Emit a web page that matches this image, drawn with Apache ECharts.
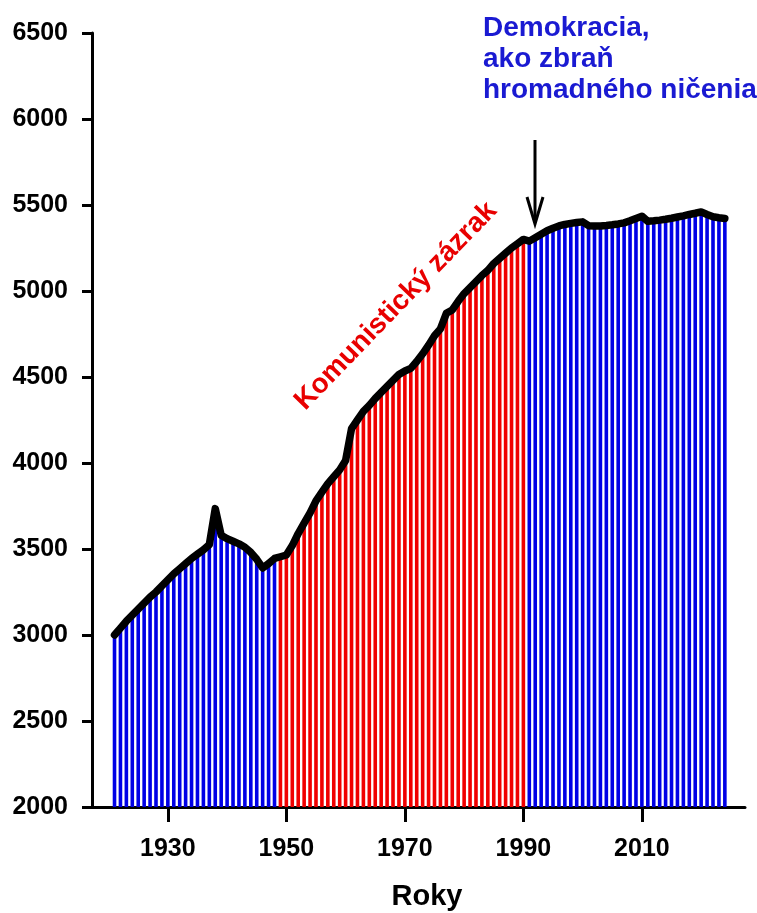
<!DOCTYPE html>
<html>
<head>
    <meta charset="utf-8">
    <title>Obyvatelstvo</title>
    <script src="https://cdn.jsdelivr.net/npm/echarts@6/dist/echarts.min.js"></script>
    <style>
        html, body { margin: 0; padding: 0; background: #fff; }
        #container { width: 757px; height: 913px; }
    </style>
</head>
<body>
<div id="container"></div>
<script type="text/javascript">
    // pocet obyvatelov (tis.), roky 1921 - 2024
    var firstYear = 1921;
    var population = [
        3000, 3040, 3080, 3115, 3150, 3185, 3220, 3250, 3285, 3320,
        3355, 3385, 3415, 3445, 3470, 3495, 3525, 3735, 3580, 3560,
        3545, 3530, 3510, 3480, 3440, 3390, 3415, 3445, 3455, 3465,
        3520, 3590, 3650, 3710, 3780, 3830, 3880, 3920, 3960, 4015,
        4200, 4250, 4300, 4335, 4375, 4410, 4445, 4480, 4515, 4535,
        4550, 4590, 4635, 4685, 4740, 4780, 4870, 4890, 4940, 4985,
        5020, 5055, 5090, 5120, 5160, 5190, 5220, 5250, 5275, 5300,
        5290, 5310, 5330, 5350, 5365, 5378, 5387, 5393, 5398, 5402,
        5380, 5378, 5378, 5381, 5385, 5390, 5396, 5408, 5422, 5435,
        5405, 5408, 5412, 5417, 5423, 5430, 5437, 5445, 5452, 5460,
        5445, 5432, 5426, 5422
    ];
    var xTicks = [1930, 1950, 1970, 1990, 2010];
    var redFrom = 1949, redTo = 1990;   // obdobie "zazraku"

    var points = [];
    for (var i = 0; i < population.length; i++) {
        points.push([firstYear + i, population[i]]);
    }

    var font = 'Liberation Sans, Arial, sans-serif';
    var myChart = echarts.init(document.getElementById('container'));

    var option = {
        backgroundColor: '#fff',
        animation: false,
        grid: { left: 92, right: 12, top: 33, bottom: 106 },
        xAxis: {
            type: 'value',
            min: 1917.2,
            max: 2027.4,
            axisLine: { show: true, lineStyle: { color: '#000', width: 3 } },
            axisTick: { show: true, length: 15, lineStyle: { color: '#000', width: 3 }, customValues: xTicks },
            axisLabel: {
                customValues: xTicks,
                formatter: function (v) { return String(v); },
                margin: 30,
                color: '#000',
                fontSize: 25,
                fontWeight: 'bold',
                fontFamily: font
            },
            splitLine: { show: false }
        },
        yAxis: {
            type: 'value',
            min: 2000,
            max: 6500,
            interval: 500,
            axisLine: { show: true, lineStyle: { color: '#000', width: 3 } },
            axisTick: { show: true, length: 10, lineStyle: { color: '#000', width: 3 } },
            axisLabel: {
                formatter: function (v) { return String(v); },
                margin: 24,
                color: '#000',
                fontSize: 25,
                fontWeight: 'bold',
                fontFamily: font
            },
            splitLine: { show: false }
        },
        series: [
            {
                type: 'bar',
                data: points,
                barWidth: 3.6,
                itemStyle: {
                    color: function (p) {
                        var y = p.data[0];
                        return (y >= redFrom && y <= redTo) ? '#f00000' : '#0000e6';
                    }
                },
                z: 2
            },
            {
                type: 'line',
                data: points,
                showSymbol: false,
                symbol: 'none',
                lineStyle: { color: '#000', width: 7.5, cap: 'round', join: 'round' },
                z: 3
            }
        ],
        graphic: [
            {
                type: 'text',
                x: 483, y: 13,
                style: {
                    text: 'Demokracia,\nako zbraň\nhromadného ničenia',
                    fill: '#1a1ad2',
                    font: 'bold 28px ' + font,
                    lineHeight: 31
                }
            },
            {
                type: 'text',
                x: 396, y: 306,
                rotation: 46 * Math.PI / 180,
                style: {
                    text: 'Komunistický zázrak',
                    fill: '#e80000',
                    font: 'bold 28px ' + font,
                    align: 'center',
                    verticalAlign: 'middle'
                }
            },
            {
                type: 'text',
                x: 427, y: 897,
                style: {
                    text: 'Roky',
                    fill: '#000',
                    font: 'bold 29px ' + font,
                    align: 'center',
                    verticalAlign: 'middle'
                }
            },
            {
                type: 'line',
                shape: { x1: 535, y1: 140, x2: 535, y2: 222 },
                style: { stroke: '#000', lineWidth: 3 }
            },
            {
                type: 'polyline',
                shape: { points: [[527, 197], [535, 224], [543, 197]] },
                style: { stroke: '#000', lineWidth: 3, fill: null }
            }
        ]
    };

    myChart.setOption(option);
</script>
</body>
</html>
